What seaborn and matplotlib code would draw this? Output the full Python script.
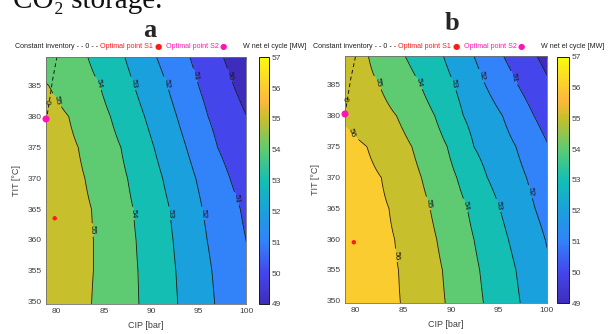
import numpy as np
import matplotlib.pyplot as plt
import seaborn as sns
from matplotlib import font_manager
from matplotlib.colors import LinearSegmentedColormap, Normalize
from matplotlib.cm import ScalarMappable

tit_rows = [349.6, 355, 360, 365, 370, 375, 380, 385, 389.7]
w_levels = [57, 56, 55, 54, 53, 52, 51, 50, 49]

# panel a: CIP [bar] where W net el cycle equals each level, per TIT row
a_57 = [71.5, 71.7, 71.7, 71.4, 70.5, 69.5, 68.0, 65.0, 61.0]
a_56 = [77.7, 77.9, 77.9, 77.6, 76.8, 75.9, 74.5, 71.5, 67.5]
a_55 = [83.7, 83.9, 83.9, 83.7, 83.0, 82.3, 81.3, 79.2, 76.0]
a_54 = [88.7, 88.6, 88.4, 88.1, 87.5, 86.8, 85.7, 84.6, 83.3]
a_53 = [92.8, 92.6, 92.3, 91.95, 91.2, 90.3, 89.3, 88.2, 87.2]
a_52 = [96.7, 96.4, 95.9, 95.4, 94.7, 93.7, 92.7, 91.7, 90.55]
a_51 = [100.8, 100.5, 100.0, 99.4, 98.3, 97.0, 96.0, 95.0, 94.06]
a_50 = [104.5, 104.2, 103.7, 103.1, 102.2, 101.2, 100.1, 98.7, 97.6]
a_49 = [108.5, 108.0, 107.5, 106.8, 106.0, 105.0, 104.0, 102.5, 101.3]

# panel b
b_57 = [78.0, 77.8, 77.3, 76.5, 75.2, 73.5, 71.0, 68.0, 65.0]
b_56 = [84.7, 84.5, 84.1, 83.5, 82.7, 81.2, 77.9, 75.0, 72.5]
b_55 = [89.4, 89.1, 88.5, 87.8, 86.9, 85.9, 84.3, 82.5, 81.35]
b_54 = [93.4, 93.0, 92.4, 91.7, 90.6, 89.6, 88.3, 86.8, 85.2]
b_53 = [97.25, 96.8, 96.0, 95.1, 93.8, 92.4, 91.3, 90.35, 89.2]
b_52 = [101.2, 100.6, 99.85, 98.8, 97.9, 96.8, 95.4, 93.6, 92.4]
b_51 = [105.0, 104.5, 103.8, 103.0, 101.8, 100.3, 98.7, 97.0, 95.5]
b_50 = [109.0, 108.5, 107.8, 106.8, 105.5, 104.0, 102.3, 100.6, 99.0]
b_49 = [113.0, 112.0, 111.0, 110.0, 109.0, 107.5, 105.8, 104.3, 102.6]

# constant inventory (zero) line and optimal points
zero_a_cip = [80.06, 79.6, 79.22, 78.95]
zero_a_tit = [389.7, 386.0, 382.1, 379.6]
zero_b_cip = [80.0, 79.5, 79.13, 78.9]
zero_b_tit = [389.6, 386.0, 382.5, 380.3]
s1_a = (79.82, 363.5)
s2_a = (78.9, 379.6)
s1_b = (79.82, 359.5)
s2_b = (78.9, 380.3)

# where the contour labels sit
labels_a = [(80.35, 382.7), (83.8, 361.6), (84.3, 385.4), (88.0, 364.3),
            (88.26, 385.4), (91.85, 364.3), (91.6, 385.4), (95.5, 364.3),
            (94.8, 386.7), (99.05, 366.7), (98.3, 386.7)]
labels_b = [(80.2, 377.3), (84.4, 357.4), (82.6, 385.4), (87.66, 365.8),
            (86.6, 385.4), (91.5, 365.5), (90.3, 385.2), (95.16, 365.5),
            (93.25, 386.5), (98.3, 367.7), (96.7, 386.2)]

# parula-like colormap (49 .. 57 MW)
parula = LinearSegmentedColormap.from_list("parula", [
    (0.0, "#3E2DBC"), (0.125, "#4446EB"), (0.25, "#3282FA"),
    (0.375, "#1AA0DC"), (0.5, "#14BEB4"), (0.625, "#5CCB73"),
    (0.75, "#C6BF2C"), (0.825, "#FDB83C"), (0.875, "#FBCB31"),
    (1.0, "#F9FB0E")])
norm = Normalize(49, 57)

sns.set_theme(style="white")
names = {f.name for f in font_manager.fontManager.ttflist}
narrow = "Liberation Sans Narrow" if "Liberation Sans Narrow" in names else "Liberation Sans"
plt.rcParams['font.family'] = [narrow, 'DejaVu Sans']

RED = "#FF1A1A"
MAG = "#FF14B4"
TXT = "#404040"
HEAD = 5.1

fig = plt.figure(figsize=(6.1, 3.34), dpi=100)
fig.patch.set_facecolor("white")


def build_field(cross):
    cip = np.linspace(55, 120, 651)
    rows = []
    for i in range(len(tit_rows)):
        xp = [c[i] for c in cross]
        rows.append(np.interp(cip, xp, w_levels))
    return cip, np.array(rows)


def panel(ax_rect, cax_rect, cross, zero_cip, zero_tit, s1, s2, lab_pos, letter, letter_xy, head_x):
    ax = fig.add_axes(ax_rect)
    cip, W = build_field(cross)
    fill_levels = np.arange(48, 59)
    band_colors = [parula(norm(max(l, 49))) for l in fill_levels[:-1]]
    ax.contourf(cip, tit_rows, W, levels=fill_levels, colors=band_colors)
    cs = ax.contour(cip, tit_rows, W, levels=np.arange(49, 58), colors='k', linewidths=0.6)
    ax.clabel(cs, inline=True, fontsize=6, fmt='%1.0f', manual=lab_pos, inline_spacing=2)

    sns.lineplot(x=zero_cip, y=zero_tit, sort=False, estimator=None, color='k',
                 linewidth=0.7, linestyle=(0, (4, 3)), ax=ax)
    ax.text(zero_cip[2] + 0.12, zero_tit[2] + 0.2, "0", fontsize=6, rotation=80,
            ha='center', va='center', color='k')
    sns.scatterplot(x=[s1[0]], y=[s1[1]], color=RED, s=10, edgecolor='none',
                    ax=ax, zorder=6, clip_on=False)
    sns.scatterplot(x=[s2[0]], y=[s2[1]], color=MAG, s=26, edgecolor='none',
                    ax=ax, zorder=6, clip_on=False)

    ax.set_xlim(78.9, 100)
    ax.set_ylim(349.6, 389.7)
    ax.set_xticks([80, 85, 90, 95, 100])
    ax.set_yticks([350, 355, 360, 365, 370, 375, 380, 385])
    ax.tick_params(direction='in', length=2.5, width=0.5, top=True, right=True,
                   labelsize=6, colors=TXT, pad=3)
    for sp in ax.spines.values():
        sp.set_color("#707070")
        sp.set_linewidth(0.6)
    ax.set_xlabel("CIP [bar]", fontsize=6.5, color=TXT, labelpad=4)
    ax.set_ylabel("TIT [°C]", fontsize=6.5, color=TXT, labelpad=5)

    cax = fig.add_axes(cax_rect)
    cb = fig.colorbar(ScalarMappable(norm=norm, cmap=parula), cax=cax, ticks=range(49, 58))
    cb.outline.set_edgecolor('k')
    cb.outline.set_linewidth(0.7)
    cax.tick_params(direction='in', length=2.5, width=0.5, labelsize=6, colors=TXT, pad=2)

    fig.text(letter_xy[0], letter_xy[1], letter, fontsize=19, fontweight='bold',
             family=['Liberation Serif', 'DejaVu Serif'], ha='center', va='baseline')
    y = 1 - 47 / 334
    fig.text(head_x / 610, y, "Constant inventory - - 0 - -", fontsize=HEAD, color='#202020', va='center')
    fig.text((head_x + 85) / 610, y, "Optimal point S1", fontsize=HEAD, color=RED, va='center')
    fig.text((head_x + 140) / 610, y, "●", fontsize=6, color=RED, va='center', family='DejaVu Sans')
    fig.text((head_x + 151) / 610, y, "Optimal point S2", fontsize=HEAD, color=MAG, va='center')
    fig.text((head_x + 205) / 610, y, "●", fontsize=6, color=MAG, va='center', family='DejaVu Sans')
    fig.text((head_x + 228) / 610, y, "W net el cycle [MW]", fontsize=HEAD, color='#202020', va='center')


panel([46 / 610, 1 - 304 / 334, 200 / 610, 247.3 / 334],
      [258.7 / 610, 1 - 304 / 334, 10.3 / 610, 246.7 / 334],
      [a_57, a_56, a_55, a_54, a_53, a_52, a_51, a_50, a_49],
      zero_a_cip, zero_a_tit, s1_a, s2_a, labels_a, "a", (150 / 610, 1 - 36.7 / 334), 15)
panel([345 / 610, 1 - 303.3 / 334, 201.5 / 610, 247.3 / 334],
      [557.3 / 610, 1 - 303.3 / 334, 11.7 / 610, 246.6 / 334],
      [b_57, b_56, b_55, b_54, b_53, b_52, b_51, b_50, b_49],
      zero_b_cip, zero_b_tit, s1_b, s2_b, labels_b, "b", (451.7 / 610, 1 - 30 / 334), 313)

fig.text(13 / 610, 1 - 8 / 334, "CO\u2082 storage.", fontsize=21,
         family=['Liberation Serif', 'DejaVu Serif'], va='baseline', color='#111111')

fig.savefig("out.png", dpi=100)
